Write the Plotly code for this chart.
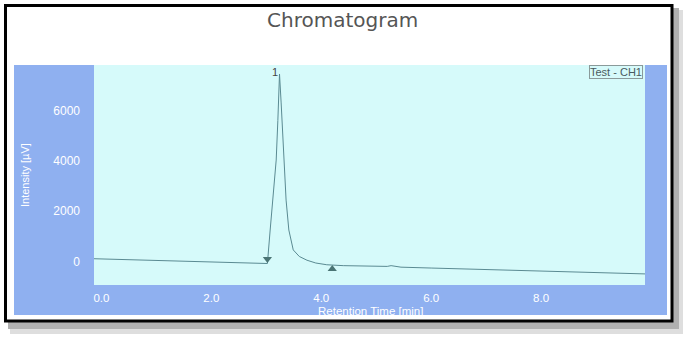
import plotly.graph_objects as go

# ---------------- data ----------------
time_min = [-0.14, 0.5, 1.0, 1.5, 2.0, 2.5, 2.9, 3.02, 3.07, 3.12, 3.18, 3.21, 3.24,
            3.27, 3.30, 3.33, 3.36, 3.41, 3.49, 3.60, 3.74, 3.90, 4.10, 4.40, 4.80,
            5.10, 5.20, 5.27, 5.35, 5.45, 6.0, 6.5, 7.0, 7.5, 8.0, 8.5, 9.0, 9.5, 9.9]
intensity_uv = [110, 70, 40, 10, -20, -50, -74, -80, 1250, 2500, 4030, 5600, 7450,
                6300, 5100, 4030, 2440, 1250, 460, 200, 50, -60, -130, -165, -190,
                -205, -195, -165, -200, -225, -260, -290, -320, -350, -380, -410, -440, -470, -494]

peak_start_time = [3.02]
peak_start_level = [100]
peak_end_time = [4.20]
peak_end_level = [-300]
peak_top_time = [3.24]
peak_top_level = [7450]
peak_labels = ["1"]

x_ticks = [0, 2, 4, 6, 8]
y_ticks = [0, 2000, 4000, 6000]

# ---------------- layout geometry ----------------
W, H = 687, 337
PL, PR, PT, PB = 94, 645, 65, 285


def px(x):
    return (x - PL) / (PR - PL)


def py(y):
    return (PB - y) / (PB - PT)


FONT = "Liberation Sans, Arial, sans-serif"
BLUE = "#8fb0f0"
CYAN = "#d6fafa"
LINE = "#5a8a92"

fig = go.Figure()

fig.add_trace(go.Scatter(x=time_min, y=intensity_uv, mode="lines",
                         line=dict(color=LINE, width=1), hoverinfo="skip",
                         showlegend=False))
fig.add_trace(go.Scatter(x=peak_start_time, y=peak_start_level, mode="markers",
                         marker=dict(symbol="triangle-down", size=8, color="#4a7474"),
                         showlegend=False))
fig.add_trace(go.Scatter(x=peak_end_time, y=peak_end_level, mode="markers",
                         marker=dict(symbol="triangle-up", size=8, color="#4a7474"),
                         showlegend=False))

shapes = [
    # shadow
    dict(type="rect", xref="paper", yref="paper", x0=px(10), x1=px(683), y0=py(334), y1=py(10),
         fillcolor="#dedede", line=dict(width=0), layer="below"),
    dict(type="rect", xref="paper", yref="paper", x0=px(8), x1=px(679), y0=py(329), y1=py(8),
         fillcolor="#b0b0b0", line=dict(width=0), layer="below"),
    # white card with black frame
    dict(type="rect", xref="paper", yref="paper", x0=px(5.5), x1=px(672), y0=py(321), y1=py(5.5),
         fillcolor="white", line=dict(color="black", width=3), layer="below"),
    # blue panel
    dict(type="rect", xref="paper", yref="paper", x0=px(14), x1=px(667), y0=py(315), y1=py(65),
         fillcolor=BLUE, line=dict(width=0), layer="below"),
    # plot area
    dict(type="rect", xref="paper", yref="paper", x0=0, x1=1, y0=0, y1=1,
         fillcolor=CYAN, line=dict(width=0), layer="below"),
]

annotations = [
    dict(text="Chromatogram", xref="paper", yref="paper", x=px(342), y=py(20),
         xanchor="center", yanchor="middle", showarrow=False,
         font=dict(family="DejaVu Sans, sans-serif", size=20, color="#555555")),
    dict(text="Retention Time [min]", xref="paper", yref="paper", x=px(370), y=py(310.5),
         xanchor="center", yanchor="middle", showarrow=False,
         font=dict(family=FONT, size=11.5, color="white")),
    dict(text="Intensity [µV]", xref="paper", yref="paper", x=px(25), y=py(175),
         xanchor="center", yanchor="middle", showarrow=False, textangle=-90,
         font=dict(family=FONT, size=11, color="white")),
    dict(text="Test - CH1", xref="paper", yref="paper", x=px(643), y=py(65),
         xanchor="right", yanchor="top", showarrow=False,
         bordercolor="#8a9a9a", borderwidth=1, borderpad=0, bgcolor=CYAN,
         font=dict(family=FONT, size=11, color="#4a5a60")),
]
for t, v, lab in zip(peak_top_time, peak_top_level, peak_labels):
    annotations.append(dict(text=lab, x=t, y=v, xref="x", yref="y", showarrow=False,
                            xanchor="right", yanchor="bottom", xshift=0, yshift=-6,
                            font=dict(family=FONT, size=11, color="#444444")))

fig.update_layout(
    width=W, height=H,
    margin=dict(l=PL, r=W - PR, t=PT, b=H - PB, pad=0),
    paper_bgcolor="white", plot_bgcolor="rgba(0,0,0,0)",
    shapes=shapes, annotations=annotations, showlegend=False,
    xaxis=dict(range=[-0.135, 9.89], tickvals=x_ticks, tickformat=".1f",
               showgrid=False, zeroline=False, showline=False, ticks="",
               ticklabelstandoff=4,
               tickfont=dict(family=FONT, size=11.5, color="white")),
    yaxis=dict(range=[-934, 7807], tickvals=y_ticks, tickformat="d",
               showgrid=False, zeroline=False, showline=False, ticks="",
               ticklabelstandoff=13,
               tickfont=dict(family=FONT, size=12, color="white")),
)

fig.write_html("out.html")
